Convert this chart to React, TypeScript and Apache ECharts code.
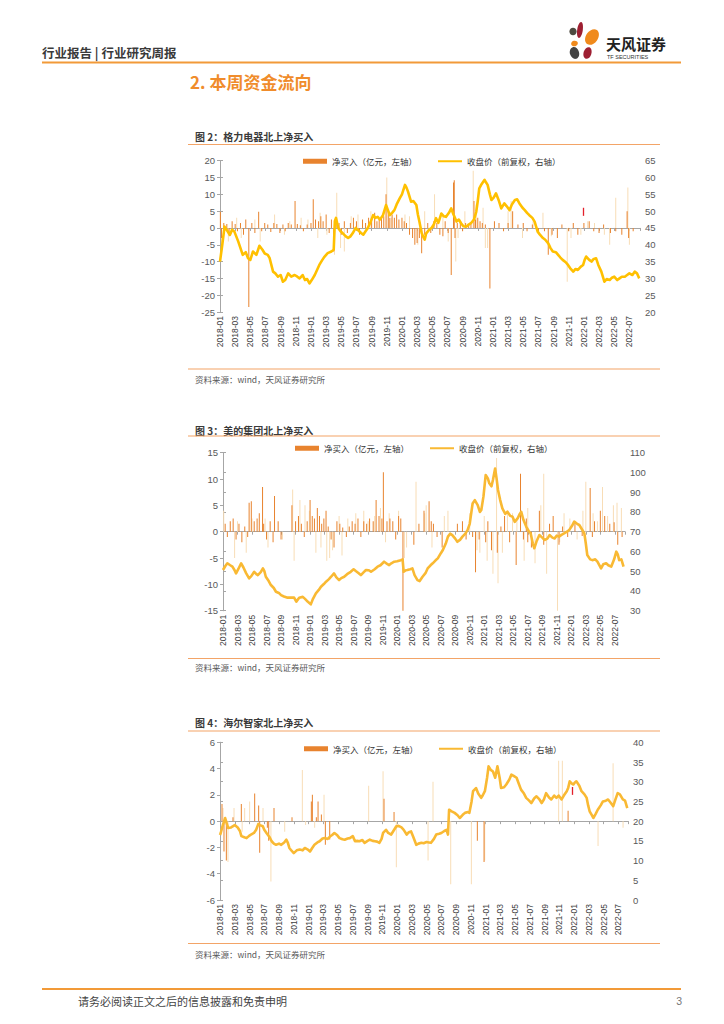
import React, { useEffect, useRef } from "react";
import * as echarts from "echarts";

// x values are months since 2018-01
const dateLabels = ["2018-01","2018-03","2018-05","2018-07","2018-09","2018-11","2019-01","2019-03","2019-05","2019-07","2019-09","2019-11","2020-01","2020-03","2020-05","2020-07","2020-09","2020-11","2021-01","2021-03","2021-05","2021-07","2021-09","2021-11","2022-01","2022-03","2022-05","2022-07"];

const netBuyName = "净买入（亿元，左轴）";
const priceName = "收盘价（前复权，右轴）";

// ---------- 格力电器 ----------
const greeMonths = [0,0.3,0.6,1.0,1.3,1.6,1.9,2.4,3.0,3.4,3.7,4.0,4.35,4.8,5.2,5.6,5.9,6.3,6.55,7.0,7.3,7.65,8.0,8.3,8.6,9.0,9.4,9.85,10.2,10.5,10.9,11.2,11.5,11.8,12.1,12.5,12.8,13.1,13.5,13.8,14.2,14.7,15.0,15.15,15.3,15.6,15.9,16.2,16.6,16.9,17.2,17.5,17.9,18.2,18.6,18.9,19.2,19.5,19.9,20.2,20.5,20.8,21.1,21.5,21.9,22.2,22.4,22.7,23.0,23.3,23.7,24.0,24.4,24.6,24.8,25.2,25.5,25.9,26.1,26.3,26.6,26.8,27.0,27.2,27.6,27.9,28.2,28.5,28.8,29.2,29.5,29.8,30.2,30.5,30.8,31.2,31.5,31.8,32.1,32.5,32.8,33.1,33.5,33.8,34.0,34.2,34.5,34.9,35.1,35.3,35.6,35.8,36.1,36.4,36.8,37.1,37.5,37.8,38.2,38.5,38.9,39.2,39.5,39.9,40.2,40.5,40.8,41.2,41.5,41.9,42.2,42.6,42.9,43.3,43.6,43.9,44.3,44.6,44.9,45.2,45.6,45.9,46.2,46.6,46.9,47.2,47.6,47.9,48.1,48.3,48.7,49.0,49.3,49.6,49.9,50.3,50.7,51.0,51.4,51.7,52.0,52.4,52.7,53.0,53.4,53.7,54.0,54.4,54.7,55.0,55.3];
const greePrice = [35,40,45.4,44,42.9,44.5,43.9,41,37,37.8,36,35.5,38,37,39.7,38.5,37.4,37,36,32,31.5,30.5,31,29,29.5,31.5,30.5,31,30.5,30,31,29.5,29.8,28.5,29.5,31,32.5,34,35.5,36.5,37.5,38,38.5,47,48,45,44,43.4,42.5,42,42.5,43.4,45,44.4,43.5,43,44,45,47,48.8,48,48.3,47.5,48.8,51.8,50,48.8,49.5,50.3,52,53.8,55,57.8,57,55.8,52.8,53,51.8,49,46.9,43.5,42.4,41.5,43.4,44.5,45,46,47.9,46.5,49.3,48.5,48.3,49.5,50.8,49,46.9,47.5,46.4,45.5,45.4,46,46.4,47.5,49.8,53,56.8,58,59.3,58.5,57.8,55,53.3,54,55.3,53,50.8,52.3,51.5,50.3,52,53.3,53.5,52.3,51,50.3,49.5,48.8,48,46.9,43.9,43,42,41.5,40.4,39,38,37.8,37,36.2,35.5,34.8,34,33,32,32.8,32.5,33.5,34,35.5,36.5,35.5,35,35.8,36,34,32,29,29.8,29.5,30.2,30.5,29.5,30,30.5,30.5,31,31.5,31,32,31.5,30];
const greeNetBuy = [[0.05,4.8],[0.2,-3],[0.5,1.5],[0.9,1.2],[1.2,-1.5],[1.6,2],[2.0,1.2],[2.3,-1],[2.7,1.5],[3.1,-2],[3.4,2.5],[3.8,-23.5],[4.2,1.5],[4.6,-1.5],[5.1,4.8],[5.5,-1],[5.9,1.5],[6.3,1],[6.7,-1.2],[7.1,1.5],[7.5,1.2],[7.9,-1.5],[8.3,1],[8.6,-1],[9.0,1.5],[9.4,1],[9.9,8],[10.2,1.2],[10.6,0.8],[11.0,-1],[11.5,1],[12.0,1.5],[12.3,8.5],[12.6,2.5],[13.0,2],[13.3,3.5],[13.6,2],[14.0,4],[14.4,-1.5],[14.7,2.5],[15.0,-7],[15.3,3],[15.7,1.5],[16.0,-2],[16.4,2],[16.8,-1.5],[17.2,1.5],[17.6,3],[18.0,2],[18.4,-2],[18.8,2.5],[19.2,1.5],[19.6,3],[20.0,2],[20.4,4.5],[20.7,2],[21.0,2.5],[21.3,3],[21.6,3.5],[21.9,10],[22.2,5],[22.4,3],[22.7,4],[23.0,3],[23.3,4],[23.6,2.5],[24.0,3],[24.3,2],[24.6,1.5],[25.0,-2],[25.4,-3],[25.7,-5],[26.0,-4.5],[26.3,-3],[26.6,-7.5],[27.0,-2],[27.4,1.5],[27.8,-1.5],[28.2,2],[28.6,1.5],[29.0,-2],[29.4,-2.5],[29.7,2],[30.1,-1.5],[30.5,-14],[30.8,13.5],[30.9,14.2],[31.0,-3],[31.3,1.5],[31.7,2],[32.0,-1],[32.4,1.5],[32.8,1],[33.1,1.5],[33.5,8],[33.7,2.5],[34.0,3],[34.3,2],[34.6,1.5],[35.0,1],[35.6,-18],[36.2,2],[36.8,1.5],[37.4,-1],[38.0,1.5],[38.6,5],[39.3,1],[40.0,1.5],[40.5,-1],[41.2,1],[42.0,-1.5],[42.8,-1],[43.3,-8],[43.8,-2],[44.5,-3],[45.1,1],[46.0,-1],[46.6,1.5],[47.2,-2],[48.0,1.5],[48.7,2],[49.3,-1],[50.0,-1.5],[50.6,1],[51.5,-1.5],[52.2,-1],[53.0,-2],[53.7,5],[53.9,-3],[54.5,-1]];
const greeNetBuyFaint = [[0.2,-8],[1.1,-4],[2.2,3],[2.8,-3],[4.6,2.5],[5.3,-4],[7.2,4],[8.5,-2],[9.2,2],[10.7,3],[11.6,2.5],[12.9,-3],[13.2,4.5],[14.1,-2],[15.1,-8],[15.4,10.5],[15.9,-6],[16.4,-7],[17.3,3.5],[18.2,4],[19.9,5],[20.4,4],[22.0,15],[22.6,3],[24.4,4],[25.0,3.5],[26.1,-5],[27.0,5],[28.3,10],[29.4,4],[30.1,-4],[31.1,-10],[31.4,-3],[32.3,5],[33.4,17],[33.8,7],[34.7,6],[35.0,-6],[35.3,-6],[38.0,5],[38.4,8],[39.9,-3],[41.3,2],[42.6,4.5],[43.7,-2.5],[45.8,-16],[46.3,-3],[47.6,-2],[48.5,2],[49.4,1.5],[50.7,-2],[51.4,-5],[52.2,9],[53.8,12],[54.0,-5]];
const greeRedMark = [47.9, 3.6, 6.0];

// ---------- 美的集团 ----------
const mideaMonths = [0,0.3,0.6,1.0,1.3,1.6,1.8,2.1,2.5,2.8,3.2,3.6,3.9,4.3,4.6,4.8,5.2,5.5,5.7,5.9,6.3,6.6,7.0,7.3,7.7,8.0,8.4,8.9,9.3,9.8,10.1,10.5,11.0,11.3,11.7,12.1,12.4,12.8,13.2,13.5,13.9,14.2,14.6,14.9,15.3,15.6,16.0,16.3,16.7,17.1,17.6,18.0,18.3,18.7,19.0,19.4,19.7,20.1,20.4,20.9,21.3,21.7,22.2,22.5,22.9,23.2,23.6,24.0,24.5,24.75,24.9,25.2,25.4,25.8,26.1,26.4,26.8,27.1,27.5,27.9,28.2,28.6,28.9,29.3,29.6,30.0,30.3,30.7,31.0,31.3,31.6,32.0,32.3,32.7,33.0,33.4,33.7,34.0,34.4,34.7,35.1,35.4,35.6,35.9,36.2,36.5,36.7,37.0,37.2,37.5,37.7,37.9,38.2,38.5,38.9,39.2,39.6,39.9,40.2,40.6,40.9,41.1,41.4,41.8,42.1,42.4,42.7,42.9,43.2,43.6,44.0,44.3,44.7,45.0,45.4,45.7,46.0,46.3,46.7,47.0,47.4,47.7,48.1,48.4,48.8,49.1,49.5,49.8,50.0,50.2,50.6,50.9,51.3,51.6,52.1,52.4,52.8,53.1,53.5,53.9,54.2,54.4,54.6,54.9,55.2];
const mideaPrice = [50.6,52.5,54,53,52.3,50.5,48.9,51,54,52,48.9,46.4,47.5,49.7,48.5,48,49.5,51.4,50,47.2,45,43,41.5,39.6,39,37.9,37.2,36.6,36.6,36.6,34.6,36.6,37,36,34.5,33.2,36,38.8,40.5,42.1,43.5,44.7,46,47.2,48.9,47,45.5,46.5,47.2,48.5,49.7,51,50.1,49,48,49.5,50.6,50.5,49.7,51,52.3,53,54.8,54,53.1,54,54.8,55,55.6,56,49.7,50.5,50.6,51,51.4,48,45.5,45,47.2,49,51.4,53,54,55.5,56.5,59,60.7,64,67.5,69,68.3,66.5,64.9,66,67.5,69,70.8,74,84.3,86,83.5,80,81,88,98.7,97,94.5,93,96.2,102,97,91.1,86,81.8,79,80.1,78,77.6,75,76.7,79,80.1,76,72.5,70.5,69.1,64,61.6,65,68.3,67,65.8,66.5,68.3,67,66.6,68,67.5,68.5,69.1,70,70.8,73,75.1,74,73.4,71,69.1,64,58.2,56,55.6,56,54.8,51.4,53.5,54,53,52.3,56,59.9,58.5,55.6,56,52.3];
const mideaNetBuy = [[0.3,1.5],[0.6,-1],[1.0,2],[1.4,2.5],[1.8,-1.5],[2.2,1.5],[2.6,-2],[3.0,1],[3.4,-1],[3.6,5.5],[3.9,5.8],[4.3,2],[4.7,2.5],[5.0,3.5],[5.45,8.5],[5.6,1.5],[6.0,-1.5],[6.5,2],[6.9,-2],[7.1,6.8],[7.6,2],[8.0,-1.5],[9.5,5],[10.0,2],[10.4,3],[10.8,1.5],[11.2,-1],[11.6,2],[12.0,6],[12.3,3],[12.6,2.5],[13.0,4.5],[13.3,3],[13.6,1.5],[13.9,2.5],[14.2,4],[14.5,1],[14.9,-1.5],[15.3,-3],[15.7,2],[16.1,1.5],[16.5,0.8],[17.0,-1],[17.4,1],[17.8,2],[18.2,1.5],[18.6,2.5],[19.0,-1],[19.4,2],[19.8,1.5],[20.2,2.5],[20.7,2],[21.1,6],[21.5,3],[21.9,2.5],[22.1,11.3],[22.6,2],[23.0,2.5],[23.4,2],[23.8,-1.5],[24.2,3],[24.5,2.5],[24.8,-15],[26.3,-2.5],[27.0,1.5],[27.7,4],[28.4,5.8],[28.7,2],[29.0,1.5],[29.5,-1],[30.2,-3],[32.3,1.5],[33.0,2],[33.5,-1.5],[34.4,-1],[34.8,-7.7],[35.3,-1.5],[36.2,-2],[36.5,2],[37.0,-3.5],[37.8,-4],[38.3,1],[38.8,3],[39.5,-2],[40.4,-6.3],[41.0,11],[41.4,-1.5],[41.8,2.5],[42.0,-2],[42.5,-3],[43.6,4],[44.2,-2.5],[45.0,1.5],[45.5,3],[46.3,-2.5],[46.8,1],[47.5,-1],[48.5,2],[49.5,-0.8],[50.6,8.3],[50.9,-1],[51.2,2],[52.0,4],[52.6,3],[53.3,1.5],[53.9,1.8],[54.4,-2.5],[55.0,-1]];
const mideaNetBuyFaint = [[0.1,4],[1.6,-5],[2.0,2],[3.2,-4],[4.0,2.5],[5.8,2.5],[6.2,-3],[8.2,-1.5],[9.6,8],[9.8,-5.5],[10.6,6],[11.3,5],[11.9,4],[12.8,-4],[13.5,-3],[14.3,-5.5],[14.7,-5],[15.1,-3.5],[16.0,3],[16.4,-4.5],[17.2,2.5],[18.3,3.5],[19.4,4],[20.0,2],[20.9,3],[21.7,4.5],[22.4,-2],[22.9,3.5],[24.2,4],[25.0,-5],[25.3,-3],[26.6,9.5],[27.8,3.5],[28.0,5],[28.8,-3],[30.5,3],[31.0,4],[34.0,3.5],[35.0,-3.5],[35.4,-4],[36.0,3],[36.4,-5.5],[37.2,-8],[37.7,14],[37.9,-9.8],[38.5,-4],[39.2,4],[39.9,3.5],[40.5,2.5],[41.5,-5.5],[42.0,4.5],[43.0,-6],[43.8,5],[44.2,11],[44.6,-8],[46.1,-15],[46.4,-2],[47.0,3.5],[47.8,2.5],[48.8,-1.5],[49.6,4],[50.0,9.5],[51.0,3.5],[51.6,2],[52.3,8.5],[53.0,3],[53.8,5],[54.3,5.5],[54.9,4.5]];

// ---------- 海尔智家 ----------
const haierMonths = [0,0.1,0.4,0.7,0.9,1.1,1.5,2.0,2.4,2.7,2.9,3.2,3.6,3.9,4.2,4.6,4.9,5.2,5.4,5.8,6.0,6.3,6.7,7.0,7.3,7.6,8.0,8.3,8.7,9.0,9.2,9.4,9.7,10.0,10.4,10.8,11.2,11.5,11.9,12.2,12.5,12.8,13.2,13.5,13.9,14.2,14.6,14.9,15.2,15.5,15.9,16.2,16.6,16.9,17.3,17.6,18.0,18.3,18.6,18.9,19.3,19.6,20.0,20.3,20.7,21.0,21.3,21.6,21.9,22.1,22.5,22.8,23.2,23.5,23.9,24.2,24.6,24.9,25.3,25.6,25.9,26.2,26.6,26.9,27.3,27.6,28.0,28.3,28.6,29.0,29.3,29.7,30.0,30.4,30.7,30.9,31.05,31.4,31.8,32.2,32.5,32.9,33.2,33.6,33.8,34.1,34.3,34.7,35.0,35.4,35.6,35.9,36.2,36.4,36.7,37.0,37.3,37.6,37.9,38.1,38.5,38.8,39.2,39.5,39.8,40.2,40.5,40.8,41.2,41.5,41.9,42.2,42.6,42.9,43.3,43.6,43.9,44.2,44.6,44.9,45.3,45.6,45.9,46.3,46.6,47.0,47.2,47.4,47.7,47.9,48.1,48.3,48.7,49.0,49.4,49.7,49.9,50.1,50.4,50.6,50.9,51.2,51.6,51.9,52.3,52.6,52.9,53.3,53.6,53.9,54.2,54.6,54.9,55.2];
const haierPrice = [16.5,17,19.1,20.8,19.5,18.3,18.4,19,18.4,17.5,16.2,16,15.7,16.2,16.6,17,17.8,19.3,19,18.7,17.8,17,16,14.9,14.3,14,14.3,14,14.6,15.3,14.5,13.2,12.5,11.9,12.6,12.8,12.6,13.2,12.8,12.3,13.2,14,14.6,14.9,15.6,15.7,15.5,16.1,16.5,17,16.4,15.7,15.4,15.3,15.6,15.7,16.2,14.9,15,14.9,15.2,14.5,15,15.3,15,14.9,14.8,14.5,15.5,17,17.8,17,16.6,17.5,18.7,18.8,18.4,17.8,16.6,17.2,17.4,16,14,14.3,14.5,14.4,14.7,14.6,14.5,15.5,16.6,16.8,17,17.5,17.8,16.6,22.9,22.5,22.1,21.5,20.8,21.6,22.1,22.3,22.1,25,27.6,28.4,27,25.9,26.5,27.6,31,33.9,33,32.6,31,33.9,31,28.4,28.6,29.3,30.5,31.8,31.5,31,29.5,28,27,25.9,25.2,24.6,25.8,26.3,25.5,24.6,25.5,27.1,26,25.5,26.5,25.9,26.5,25.5,26.5,27.6,28.5,30.1,29.5,29.3,29.8,30.1,29,27.6,26.8,25.9,24,22.5,21.5,20.8,21.8,22.9,24,25,25.2,25.5,24.8,23.8,25.5,27.1,26.8,25.5,25.2,23.3];
const haierNetBuy = [[0.27,1.3],[0.54,-2.3],[0.86,-3],[1.76,0.3],[2.89,1.3],[4.7,2.1],[5.24,1.2],[5.38,-2.4],[6.42,-0.5],[6.6,-1.5],[7.32,1],[9.76,0.3],[12.38,1.5],[12.52,2],[13.06,0.3],[13.29,1.5],[13.74,0.5],[14.28,-1.8],[14.87,-1.4],[22.23,1.7],[23.59,0.7],[34.88,-1.5],[35.79,-3.1],[47.18,0.8]];
const haierNetBuyFaint = [[0.41,1],[1.08,-3.1],[1.9,1],[3.0,-0.8],[3.34,1],[4.02,1.5],[5.83,1],[6.9,-4.6],[8.77,-0.8],[11.16,3.9],[11.6,-0.3],[12.83,-0.5],[14.1,2],[20.15,2.7],[22.1,3.8],[23.9,-3.5],[28.2,-3],[28.87,3],[31.27,-4.8],[34.07,-4.8],[35.88,-3],[45.9,4.6],[46.4,4.6],[51.24,-1.9],[53.28,4.4],[54.63,-0.5]];
const haierRedMark = [47.8, 2.0, 2.6];

const FONT = '"Liberation Sans", "Noto Sans CJK SC", sans-serif';
const CJK = '"Noto Sans CJK SC", "Liberation Sans", sans-serif';

const charts = [
  {
    title: "图 2：格力电器北上净买入",
    months: greeMonths, price: greePrice, strong: greeNetBuy, faint: greeNetBuyFaint, red: greeRedMark,
    grid: { left: 220, top: 160.7, width: 420, height: 151.3 }, xMax: 55.4,
    yl: [-25, 20, 5], yr: [20, 65, 5], legend: [303, 157], lineColor: "#FFC000",
    titleY: 136.5, titleLineY: 144.5, srcLineY: 369, srcY: 379,
  },
  {
    title: "图 3：美的集团北上净买入",
    months: mideaMonths, price: mideaPrice, strong: mideaNetBuy, faint: mideaNetBuyFaint, red: null,
    grid: { left: 223, top: 452.7, width: 402, height: 158 }, xMax: 55.4,
    yl: [-15, 15, 5], yr: [30, 110, 10], legend: [295, 444], lineColor: "#F9B933",
    titleY: 430, titleLineY: 436, srcLineY: 658.5, srcY: 667,
  },
  {
    title: "图 4：海尔智家北上净买入",
    months: haierMonths, price: haierPrice, strong: haierNetBuy, faint: haierNetBuyFaint, red: haierRedMark,
    grid: { left: 220, top: 742.3, width: 408, height: 157.7 }, xMax: 55.3,
    yl: [-6, 6, 2], yr: [0, 40, 5], legend: [304, 744.5], lineColor: "#F9B933",
    titleY: 722.5, titleLineY: 731, srcLineY: 943.5, srcY: 953.5,
  },
];

const txt = (x: number, y: number, text: string, size: number, color: string, weight = "normal", align = "left", family = CJK) => ({
  type: "text", x, y, silent: true,
  style: { text, fill: color, fontSize: size, fontWeight: weight, fontFamily: family, textAlign: align, textVerticalAlign: "middle" },
});
const hline = (x1: number, x2: number, y: number, color: string, w: number) => ({
  type: "line", silent: true, shape: { x1, y1: y, x2, y2: y }, style: { stroke: color, lineWidth: w },
});
const petal = (x: number, y: number, rx: number, ry: number, rot: number, fill: string) => ({
  type: "ellipse", x, y, rotation: rot, silent: true, shape: { cx: 0, cy: 0, rx, ry }, style: { fill },
});

const xLabelFormatter = (v: number) => {
  const i = Math.round(v / 2);
  return Math.abs(v - i * 2) < 1e-6 && dateLabels[i] ? dateLabels[i] : "";
};

function buildOption() {
  const graphics: any[] = [
    txt(42, 52, "行业报告 | 行业研究周报", 12.5, "#3a3a3a", "bold"),
    hline(42, 681, 62.5, "#F29A38", 2),
    petal(573, 31.5, 3.6, 3.8, 0, "#4d4a40"),
    petal(580, 30, 2.8, 8, -0.15, "#9e1f32"),
    petal(592, 37, 6, 8.6, -0.6, "#F08A1C"),
    petal(574.5, 43.5, 3.4, 2.8, 0.3, "#F08A1C"),
    petal(574.5, 53, 4.6, 6, 0.3, "#434343"),
    petal(587.5, 53, 3.9, 6, -0.3, "#9e1f32"),
    txt(606, 43, "天风证券", 15, "#222", "bold"),
    txt(607, 56.5, "TF SECURITIES", 5.5, "#333", "normal", "left", FONT),
    txt(190, 81, "2. 本周资金流向", 17, "#F08C2B", "bold"),
    hline(42, 681, 989, "#F29A38", 2),
    txt(78, 1001, "请务必阅读正文之后的信息披露和免责申明", 11, "#444"),
    txt(682, 1001, "3", 10.5, "#777", "normal", "right", FONT),
  ];
  charts.forEach((c) => {
    graphics.push(txt(195, c.titleY, c.title, 10, "#3a3a3a", "bold"));
    graphics.push(hline(188, 660, c.titleLineY, "#F3A467", 1.2));
    graphics.push(hline(188, 660, c.srcLineY, "#F3A467", 1.2));
    graphics.push(txt(195, c.srcY, "资料来源：wind，天风证券研究所", 8.5, "#595959"));
  });

  const axisGray = "#A6A6A6";
  const xAxis = charts.flatMap((c, i) => [
    {
      type: "value", gridIndex: i, min: 0, max: c.xMax, interval: 2, position: "bottom",
      axisLine: { show: false, onZero: false }, axisTick: { show: false }, splitLine: { show: false },
      axisLabel: { rotate: 90, fontSize: 8.5, color: "#404040", fontFamily: FONT, margin: 4, showMaxLabel: false, formatter: xLabelFormatter },
    },
    {
      type: "value", gridIndex: i, min: 0, max: c.xMax, interval: 2, position: "bottom",
      axisLine: { show: true, onZero: true, lineStyle: { color: axisGray, width: 1 } },
      axisTick: { show: true, length: 3, lineStyle: { color: axisGray } },
      axisLabel: { show: false }, splitLine: { show: false },
    },
  ]);
  const yAxis = charts.flatMap((c, i) => [
    {
      type: "value", gridIndex: i, position: "left", min: c.yl[0], max: c.yl[1], interval: c.yl[2],
      axisLine: { show: true, lineStyle: { color: axisGray } }, axisTick: { show: true, length: 3, lineStyle: { color: axisGray } },
      splitLine: { show: false }, axisLabel: { fontSize: 9.5, color: "#595959", fontFamily: FONT, margin: 5 },
    },
    {
      type: "value", gridIndex: i, position: "right", min: c.yr[0], max: c.yr[1], interval: c.yr[2],
      axisLine: { show: true, lineStyle: { color: axisGray } }, axisTick: { show: true, length: 3, lineStyle: { color: axisGray } },
      splitLine: { show: false }, axisLabel: { fontSize: 9.5, color: "#595959", fontFamily: FONT, margin: 5 },
    },
  ]);
  const series: any[] = [];
  charts.forEach((c, i) => {
    series.push({
      type: "bar", name: "faint" + i, xAxisIndex: 2 * i, yAxisIndex: 2 * i, barWidth: 1, barGap: "-100%",
      itemStyle: { color: "#F8DDB6" }, data: c.faint, silent: true,
    });
    const s: any = {
      type: "bar", name: netBuyName, xAxisIndex: 2 * i, yAxisIndex: 2 * i, barWidth: 1, barGap: "-100%",
      itemStyle: { color: "#E8832E" }, data: c.strong, silent: true,
    };
    if (c.red) {
      s.markLine = {
        silent: true, symbol: "none", label: { show: false },
        lineStyle: { color: "#E3202B", width: 1.3, type: "solid" },
        data: [[{ coord: [c.red[0], c.red[1]] }, { coord: [c.red[0], c.red[2]] }]],
      };
    }
    series.push(s);
    series.push({
      type: "line", name: priceName, xAxisIndex: 2 * i, yAxisIndex: 2 * i + 1, symbol: "none", silent: true,
      lineStyle: { color: c.lineColor, width: 2.6, join: "round" }, itemStyle: { color: c.lineColor },
      data: c.months.map((m, k) => [m, c.price[k]]),
    });
  });

  return {
    animation: false,
    backgroundColor: "#ffffff",
    graphic: { elements: graphics },
    grid: charts.map((c) => ({ ...c.grid, show: false })),
    legend: charts.map((c) => ({
      left: c.legend[0], top: c.legend[1], padding: 0, itemWidth: 24, itemHeight: 5, itemGap: 20,
      selectedMode: false,
      textStyle: { fontSize: 8.5, color: "#333", fontFamily: CJK },
      data: [
        { name: netBuyName, icon: "rect", itemStyle: { color: "#E8832E" } },
        {
          name: priceName,
          itemStyle: { color: "rgba(0,0,0,0)", borderColor: "rgba(0,0,0,0)", borderWidth: 0 },
          lineStyle: { color: c.lineColor, width: 2 },
        },
      ],
    })),
    xAxis, yAxis, series,
  };
}

export default function App() {
  const ref = useRef<HTMLDivElement>(null);
  useEffect(() => {
    if (!ref.current) return;
    const chart = echarts.init(ref.current, undefined, { renderer: "svg" });
    chart.setOption(buildOption() as any);
    return () => chart.dispose();
  }, []);
  return <div ref={ref} style={{ position: "absolute", left: 0, top: 0, width: 724, height: 1024, background: "#fff" }} />;
}
